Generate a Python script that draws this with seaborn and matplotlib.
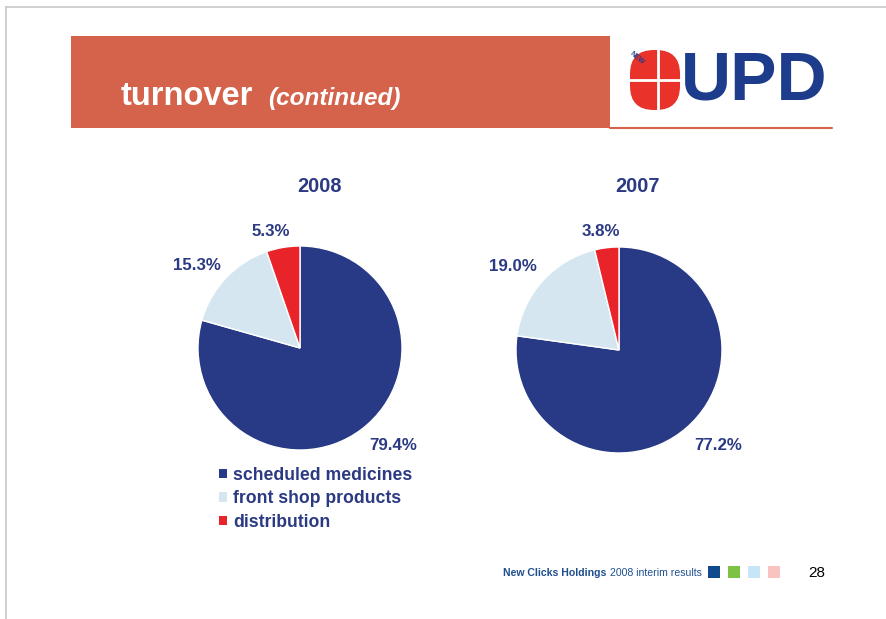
import matplotlib
matplotlib.use("Agg")
import matplotlib.pyplot as plt
import matplotlib.patches as mpatches
import seaborn as sns

segments = ["scheduled medicines", "front shop products", "distribution"]
years = ["2008", "2007"]
shares_2008 = [79.4, 15.3, 5.3]
shares_2007 = [77.2, 19.0, 3.8]
footer_bold = "New Clicks Holdings"
footer_rest = "2008 interim results"
page_number = "28"

sns.set_theme(style="white")
plt.rcParams['font.family'] = ['Liberation Sans', 'DejaVu Sans']

W, H = 886, 619
navy = "#283a85"
text_blue = "#2b3a82"
pie_colors = sns.color_palette([navy, "#d5e6f0", "#e8232a"])

fig = plt.figure(figsize=(W / 100, H / 100), dpi=100)
fig.patch.set_facecolor("white")

# background layer in pixel units
bg = fig.add_axes([0, 0, 1, 1])
bg.set_xlim(0, W)
bg.set_ylim(H, 0)
bg.axis("off")

bg.plot([6, W], [7, 7], color="#c8c8c8", lw=1.2)
bg.plot([6, 6], [7, H], color="#c8c8c8", lw=1.2)

bg.add_patch(mpatches.Rectangle((71, 36), 539, 92, color="#d5634b", lw=0))
bg.plot([610, 832], [128, 128], color="#d5634b", lw=1.5)
bg.text(121, 105, "turnover", color="white", fontsize=23.5, fontweight="bold", va="baseline")
bg.text(268, 105, "(continued)", color="white", fontsize=17.5, fontweight="bold",
        fontstyle="italic", va="baseline")

# logo
bg.add_patch(mpatches.FancyBboxPatch((630, 50), 50, 60, boxstyle="round,pad=0,rounding_size=24",
                                     color="#e8322a", lw=0))
bg.plot([628, 684], [80, 80], color="white", lw=2)
bg.plot([658, 658], [46, 113], color="white", lw=2)
bg.text(681, 81, "UPD", color="#1e3c8c", fontsize=50, fontweight="bold", va="center",
        ha="left")
bg.text(637, 58, "NEW", color="#1e3c8c", fontsize=5, fontweight="bold", rotation=-40,
        ha="center", va="center")

# footer
bg.text(503, 576, footer_bold, color="#1f4f8f", fontsize=7.6, fontweight="bold", va="baseline")
bg.text(610, 576, footer_rest, color="#1f4f8f", fontsize=7.6, va="baseline")
for x0, c in zip([708, 728, 748, 768], ["#0f4a8c", "#7dc242", "#c6e5f7", "#f9c3bf"]):
    bg.add_patch(mpatches.Rectangle((x0, 566), 12, 12, color=c, lw=0))
bg.text(808, 577, page_number, color="black", fontsize=11, va="baseline")

# pie layout: center x, center y, radius in pixels; label positions in radius units
layouts = {
    "2008": dict(cx=300, cy=348, r=102, title_x=320,
                 label_pos=[(0.91, -0.96), (-1.01, 0.81), (-0.29, 1.14)]),
    "2007": dict(cx=619, cy=350, r=103, title_x=638,
                 label_pos=[(0.96, -0.93), (-1.03, 0.81), (-0.18, 1.15)]),
}

wedges_first = None
for year, values in zip(years, [shares_2008, shares_2007]):
    lay = layouts[year]
    cx, cy, r = lay["cx"], lay["cy"], lay["r"]
    ax = fig.add_axes([(cx - r) / W, (H - cy - r) / H, 2 * r / W, 2 * r / H])
    wedges, texts = ax.pie(values, colors=pie_colors, startangle=90, counterclock=False,
                           labels=[f"{v:.1f}%" for v in values],
                           wedgeprops=dict(edgecolor="white", linewidth=1))
    for t, pos in zip(texts, lay["label_pos"]):
        t.set_position(pos)
        t.set_ha("center")
        t.set_va("center")
        t.set_color(text_blue)
        t.set_fontsize(12.2)
        t.set_fontweight("bold")
    ax.set_xlim(-1, 1)
    ax.set_ylim(-1, 1)
    bg.text(lay["title_x"], 186, year, color=text_blue, fontsize=14.3, fontweight="bold",
            ha="center", va="center")
    if wedges_first is None:
        wedges_first = wedges

leg = fig.legend(wedges_first, segments, loc="upper left",
                 bbox_to_anchor=(203 / W, 1 - 451 / H), frameon=False,
                 handlelength=0.45, handleheight=0.45, handletextpad=0.35,
                 labelspacing=0.36, prop=dict(size=12.7, weight="bold"))
for t in leg.get_texts():
    t.set_color(text_blue)
for h in leg.legend_handles:
    h.set_edgecolor("none")

fig.savefig("out.png", dpi=100, facecolor="white")
